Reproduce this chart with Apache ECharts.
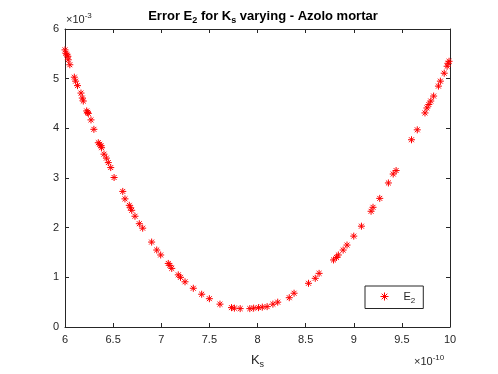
<!DOCTYPE html>
<html style="height: 100%">
<head>
    <meta charset="utf-8">
</head>
<body style="height: 100%; margin: 0; background: #fff">
<div id="container" style="width: 498px; height: 374px"></div>
<script type="text/javascript" src="https://cdn.jsdelivr.net/npm/echarts@6/dist/echarts.min.js"></script>
<script type="text/javascript">
    // Ks values (x 1e-10) and error E2 values (x 1e-3)
    var ks = [6.00, 6.01, 6.02, 6.03, 6.034, 6.05, 6.097, 6.11, 6.13, 6.166, 6.18, 6.19,
        6.225, 6.235, 6.242, 6.27, 6.30, 6.346, 6.36, 6.374, 6.38, 6.405, 6.43, 6.45, 6.475,
        6.51, 6.60, 6.623, 6.668, 6.68, 6.693, 6.727, 6.772, 6.807, 6.90, 6.953, 6.994,
        7.073, 7.09, 7.109, 7.177, 7.20, 7.247, 7.333, 7.42, 7.50, 7.61, 7.73, 7.76, 7.82,
        7.92, 7.96, 8.01, 8.05, 8.10, 8.16, 8.21, 8.33, 8.38, 8.53, 8.60, 8.64, 8.79,
        8.82, 8.84, 8.89, 8.93, 9.00, 9.08, 9.18, 9.20, 9.27, 9.36, 9.41, 9.44, 9.60,
        9.66, 9.74, 9.76, 9.78, 9.80, 9.83, 9.88, 9.90, 9.94, 9.97, 9.98, 9.99];
    var e2 = [5.58, 5.51, 5.48, 5.45, 5.38, 5.28, 5.03, 4.95, 4.86, 4.71, 4.61, 4.55,
        4.35, 4.32, 4.30, 4.17, 3.98, 3.71, 3.68, 3.65, 3.61, 3.48, 3.40, 3.31, 3.21,
        3.01, 2.73, 2.58, 2.45, 2.40, 2.35, 2.23, 2.08, 1.99, 1.71, 1.55, 1.45,
        1.28, 1.24, 1.18, 1.05, 1.00, 0.91, 0.78, 0.66, 0.57, 0.46, 0.39, 0.38, 0.37,
        0.37, 0.38, 0.39, 0.40, 0.41, 0.46, 0.50, 0.59, 0.68, 0.88, 0.98, 1.08, 1.35,
        1.40, 1.45, 1.55, 1.65, 1.83, 2.03, 2.33, 2.41, 2.59, 2.90, 3.08, 3.15, 3.77,
        3.97, 4.31, 4.41, 4.48, 4.55, 4.65, 4.85, 4.95, 5.11, 5.25, 5.31, 5.35];
    var xTicks = ['6', '6.5', '7', '7.5', '8', '8.5', '9', '9.5', '10'];

    var points = ks.map(function (k, i) { return [k, e2[i]]; });
    var star = 'path://M0,-10L0,10M-10,0L10,0M-7,-7L7,7M-7,7L7,-7';
    var axisColor = '#262626';
    var font = 'Liberation Sans, Arial, sans-serif';

    var myChart = echarts.init(document.getElementById('container'));

    function axisBase(pos) {
        return {
            position: pos,
            axisLine: {show: true, onZero: false, lineStyle: {color: axisColor, width: 1}},
            axisTick: {show: true, inside: true, length: 4, lineStyle: {color: axisColor}},
            splitLine: {show: false}
        };
    }

    var xBottom = axisBase('bottom');
    xBottom.type = 'value';
    xBottom.min = 6; xBottom.max = 10; xBottom.interval = 0.5;
    xBottom.axisLabel = {color: axisColor, fontSize: 11, fontFamily: font, margin: 7,
        formatter: function (v) { return xTicks[Math.round((v - 6) / 0.5)]; }};
    xBottom.name = '{k|K}{s|s}';
    xBottom.nameLocation = 'middle';
    xBottom.nameGap = 24;
    xBottom.nameTextStyle = {rich: {
        k: {fontSize: 13, color: axisColor, fontFamily: font},
        s: {fontSize: 9, color: axisColor, fontFamily: font, padding: [9, 0, 0, 0]}
    }};

    var xTop = axisBase('top');
    xTop.type = 'value';
    xTop.min = 6; xTop.max = 10; xTop.interval = 0.5;
    xTop.axisLabel = {show: false};

    var yLeft = axisBase('left');
    yLeft.type = 'value';
    yLeft.min = 0; yLeft.max = 6; yLeft.interval = 1;
    yLeft.axisLabel = {color: axisColor, fontSize: 11, fontFamily: font, margin: 6};

    var yRight = axisBase('right');
    yRight.type = 'value';
    yRight.min = 0; yRight.max = 6; yRight.interval = 1;
    yRight.axisLabel = {show: false};

    var option = {
        animation: false,
        backgroundColor: '#fff',
        title: {
            text: '{a|Error E}{s|2}{a| for K}{s|s}{a| varying - Azolo mortar}',
            left: 258, top: 2, textAlign: 'center',
            textStyle: {rich: {
                a: {fontSize: 13, fontWeight: 'bold', color: '#000', fontFamily: font},
                s: {fontSize: 9, fontWeight: 'bold', color: '#000', fontFamily: font, padding: [9, 0, 0, 0]}
            }}
        },
        grid: {left: 65, right: 48, top: 29, bottom: 45, containLabel: false},
        xAxis: [xBottom, xTop],
        yAxis: [yLeft, yRight],
        legend: {
            left: 365, top: 286, width: 58,
            orient: 'vertical',
            borderColor: axisColor, borderWidth: 1, borderRadius: 0,
            padding: [5, 8, 4, 15],
            itemWidth: 8, itemHeight: 8, itemGap: 0,
            data: [{name: 'E2', icon: star,
                itemStyle: {color: '#ff0000', borderColor: '#ff0000', borderWidth: 1}}],
            formatter: function () { return '{e|E}{s|2}'; },
            textStyle: {rich: {
                e: {fontSize: 11, color: axisColor, fontFamily: font, padding: [0, 0, 0, 10]},
                s: {fontSize: 8, color: axisColor, fontFamily: font, padding: [8, 0, 0, 0]}
            }}
        },
        graphic: [
            {type: 'text', left: 66, top: 12, style: {
                text: '{a|\u00d710}{b|-3}', rich: {
                    a: {fontSize: 11, fill: axisColor, fontFamily: font},
                    b: {fontSize: 8, fill: axisColor, fontFamily: font, padding: [0, 0, 7, 0]}
                }}},
            {type: 'text', left: 414, top: 354, style: {
                text: '{a|\u00d710}{b|-10}', rich: {
                    a: {fontSize: 11, fill: axisColor, fontFamily: font},
                    b: {fontSize: 8, fill: axisColor, fontFamily: font, padding: [0, 0, 7, 0]}
                }}}
        ],
        series: [{
            name: 'E2',
            type: 'scatter',
            data: points,
            symbol: star,
            symbolSize: 7,
            itemStyle: {color: '#ff0000', borderColor: '#ff0000', borderWidth: 1, opacity: 1}
        }]
    };
    myChart.setOption(option);
</script>
</body>
</html>
